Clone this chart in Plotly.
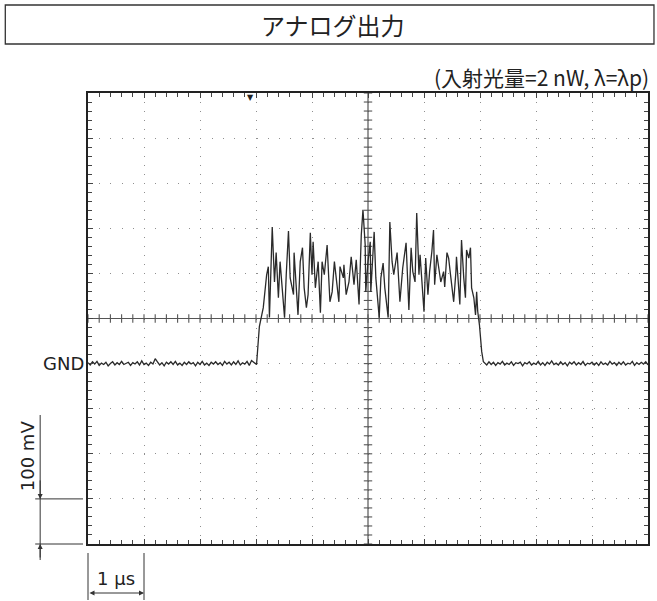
import numpy as np
import plotly.graph_objects as go

# ---------------- data (time in µs, signal in mV, GND = 0 mV) ----------------
base_left_mv = [2, -3, 4, -1, 5, -4, 1, -2, 3, -5, 0, 4, -3, 2, -2, 5, -2, 1, 3, -4,
                2, -1, 4, -3, 6, -2, 1, -4, 3, -1, 11, 4, -3, 2, -5, 3, -1, 4, -2, 5,
                -3, 1, -4, 3, -2, 4, -1, 2, -5, 3, -2, 5, -3, 1, -4, 3, -1, 4, -2, 2,
                -4, 5, -1, 3, -3, 4, -2, 6, -3, 2, -1, 5, -4, 7, 3]
base_left_t = np.round(np.linspace(0.0, 2.96, len(base_left_mv)), 3)

pulse_t = [3.01, 3.04, 3.06, 3.13, 3.17, 3.19, 3.22, 3.24, 3.29, 3.33, 3.36, 3.40, 3.43,
           3.49, 3.51, 3.54, 3.58, 3.61, 3.67, 3.68, 3.72, 3.75, 3.79, 3.83, 3.86, 3.90,
           3.93, 3.97, 4.00, 4.02, 4.06, 4.11, 4.15, 4.18, 4.22, 4.27, 4.32, 4.36, 4.40,
           4.43, 4.48, 4.50, 4.56, 4.57, 4.61, 4.66, 4.70, 4.75, 4.79, 4.84, 4.88, 4.91,
           4.95, 4.96, 5.00, 5.04, 5.05, 5.11, 5.14, 5.20, 5.23, 5.27, 5.30, 5.36, 5.39,
           5.43, 5.46, 5.52, 5.57, 5.62, 5.68, 5.73, 5.77, 5.80, 5.84, 5.87, 5.91, 5.93,
           5.96, 6.00, 6.03, 6.07, 6.10, 6.14, 6.17, 6.19, 6.23, 6.26, 6.30, 6.35, 6.37,
           6.41, 6.44, 6.48, 6.53, 6.57, 6.58, 6.64, 6.67, 6.71, 6.74, 6.76, 6.80, 6.83,
           6.85, 6.89, 6.92, 6.94, 6.96, 6.99, 7.01, 7.03, 7.06]
pulse_mv = [-2, 49, 82, 124, 175, 197, 215, 102, 303, 181, 246, 146, 226,
            124, 102, 197, 294, 190, 153, 246, 159, 108, 226, 257, 168, 124,
            153, 290, 197, 270, 168, 226, 113, 226, 197, 263, 137, 159, 226,
            190, 137, 215, 190, 219, 153, 181, 237, 175, 230, 131, 285, 341,
            263, 159, 226, 270, 159, 292, 190, 102, 190, 223, 168, 102, 314,
            226, 197, 246, 137, 212, 268, 119, 257, 204, 181, 334, 197, 241,
            175, 115, 234, 153, 204, 248, 296, 175, 241, 219, 181, 204, 170,
            246, 234, 190, 137, 204, 237, 131, 274, 190, 146, 252, 234, 257,
            168, 146, 108, 159, 115, 86, 58, 27, 4]

base_right_mv = [1, -3, 4, -2, 3, -4, 2, -1, 5, -3, 1, -2, 4, -4, 2, 0, 3, -5, 2, -1,
                 4, -3, 1, -2, 5, -3, 2, -4, 3, -1, 6, -2, 1, -3, 4, -2, 2, -5, 3, -1,
                 4, -3, 2, -2, 5, -4, 1, -1, 3, -3, 2, -4, 4, -2, 1, -3, 5, -1, 2, -4,
                 3, -2, 4, -3, 1, -1, 5, -4, 2, -2, 3, -1, 4, -3]
base_right_t = np.round(np.linspace(7.08, 10.0, len(base_right_mv)), 3)

t_all = list(base_left_t) + pulse_t + list(base_right_t)
v_all = base_left_mv + pulse_mv + base_right_mv

X_RANGE = [0, 10]          # 1 µs / div
Y_RANGE = [-400, 600]      # 100 mV / div
center_t = 5.0
center_mv = 100.0
trigger_t = 2.9

title_text = "アナログ出力"
subtitle_text = "(入射光量=2 nW, λ=λp)"

# ---------------- layout geometry ----------------
W, H = 657, 601
ML, MR, MT, MB = 88, 7, 93, 57
PW, PH = W - ML - MR, H - MT - MB


def px_x(px):
    return (px - ML) / PW


def px_y(py):
    return (H - MB - py) / PH


def data_y(v):
    return (v - Y_RANGE[0]) / (Y_RANGE[1] - Y_RANGE[0])


def data_x(t):
    return (t - X_RANGE[0]) / (X_RANGE[1] - X_RANGE[0])


fig = go.Figure()

# centre cross with small ticks
minor_t = np.round(np.arange(X_RANGE[0], X_RANGE[1] + 1e-9, 0.2), 3)
minor_v = np.round(np.arange(Y_RANGE[0], Y_RANGE[1] + 1e-9, 20), 3)
fig.add_trace(go.Scatter(x=[X_RANGE[0], X_RANGE[1]], y=[center_mv, center_mv], mode="lines",
                         line=dict(color="#555", width=1.2), hoverinfo="skip", showlegend=False))
fig.add_trace(go.Scatter(x=[center_t, center_t], y=Y_RANGE, mode="lines",
                         line=dict(color="#555", width=1.2), hoverinfo="skip", showlegend=False))
fig.add_trace(go.Scatter(x=minor_t, y=[center_mv] * len(minor_t), mode="markers",
                         marker=dict(symbol="line-ns", size=6, line=dict(color="#555", width=1.1)),
                         hoverinfo="skip", showlegend=False))
fig.add_trace(go.Scatter(x=[center_t] * len(minor_v), y=minor_v, mode="markers",
                         marker=dict(symbol="line-ew", size=6, line=dict(color="#555", width=1.1)),
                         hoverinfo="skip", showlegend=False))

# waveform
fig.add_trace(go.Scatter(x=t_all, y=v_all, mode="lines",
                         line=dict(color="#2a2a2a", width=1.3), showlegend=False))

axis_common = dict(showticklabels=False, showline=True, linecolor="#222", linewidth=1.6,
                   mirror="allticks", ticks="inside", ticklen=5, tickcolor="#444", tickwidth=1,
                   showgrid=True, gridcolor="#8f8f8f", gridwidth=1, zeroline=False)

fig.update_xaxes(range=X_RANGE, dtick=1, tick0=0, griddash="1px,8.02px",
                 minor=dict(dtick=0.2, ticks="inside", ticklen=4, tickcolor="#444", showgrid=False),
                 **axis_common)
fig.update_yaxes(range=Y_RANGE, dtick=100, tick0=0, griddash="1px,10.24px",
                 minor=dict(dtick=20, ticks="inside", ticklen=4, tickcolor="#444", showgrid=False),
                 **axis_common)

shapes = []
# title box
shapes.append(dict(type="rect", xref="paper", yref="paper",
                   x0=px_x(5), x1=px_x(656), y0=px_y(44), y1=px_y(5),
                   line=dict(color="#333", width=1.3)))
# 100 mV dimension
for v in (Y_RANGE[0] + 100, Y_RANGE[0]):
    shapes.append(dict(type="line", xref="paper", yref="paper",
                       x0=px_x(35), x1=px_x(83), y0=data_y(v), y1=data_y(v),
                       line=dict(color="#333", width=1)))
shapes.append(dict(type="line", xref="paper", yref="paper",
                   x0=px_x(40), x1=px_x(40), y0=px_y(560), y1=px_y(415),
                   line=dict(color="#333", width=1)))
# 1 µs dimension
for t in (X_RANGE[0], X_RANGE[0] + 1):
    shapes.append(dict(type="line", xref="paper", yref="paper",
                       x0=data_x(t), x1=data_x(t), y0=px_y(553), y1=px_y(600),
                       line=dict(color="#333", width=1)))

lat_font = "DejaVu Sans"
annotations = [
    dict(text=title_text, xref="paper", yref="paper", x=px_x(334), y=px_y(25),
         xanchor="center", yanchor="middle", showarrow=False,
         font=dict(family="Noto Sans CJK JP", size=24, color="#222")),
    dict(text=subtitle_text, xref="paper", yref="paper", x=px_x(653), y=px_y(77),
         xanchor="right", yanchor="middle", showarrow=False,
         font=dict(family="Noto Sans CJK JP", size=21, color="#222")),
    dict(text="GND", xref="paper", yref="y", x=px_x(86), y=0,
         xanchor="right", yanchor="middle", showarrow=False,
         font=dict(family=lat_font, size=18, color="#222")),
    dict(text="100 mV", xref="paper", yref="paper", x=px_x(27), y=px_y(456),
         xanchor="center", yanchor="middle", textangle=-90, showarrow=False,
         font=dict(family=lat_font, size=18, color="#222")),
    dict(text="1 µs", xref="paper", yref="paper", x=data_x(0.5), y=px_y(578),
         xanchor="center", yanchor="middle", showarrow=False,
         font=dict(family=lat_font, size=18, color="#222")),
    dict(text="▼", xref="x", yref="paper", x=trigger_t, y=1.0,
         xanchor="center", yanchor="top", showarrow=False, yshift=2,
         font=dict(family="DejaVu Sans", size=8, color="#222")),
    # arrows of the 100 mV dimension
    dict(text="", xref="paper", yref="paper", x=px_x(40), y=data_y(Y_RANGE[0] + 100),
         ax=0, ay=-20, showarrow=True, arrowhead=2, arrowsize=1, arrowwidth=1, arrowcolor="#333"),
    dict(text="", xref="paper", yref="paper", x=px_x(40), y=data_y(Y_RANGE[0]),
         ax=0, ay=15, showarrow=True, arrowhead=2, arrowsize=1, arrowwidth=1, arrowcolor="#333"),
    # double arrow of the 1 µs dimension
    dict(text="", xref="paper", yref="paper", x=data_x(1), y=px_y(593),
         ax=-56, ay=0, showarrow=True, arrowhead=2, startarrowhead=2, arrowside="end+start",
         arrowsize=1, arrowwidth=1, arrowcolor="#333"),
]

fig.update_layout(width=W, height=H, margin=dict(l=ML, r=MR, t=MT, b=MB),
                  paper_bgcolor="white", plot_bgcolor="white",
                  shapes=shapes, annotations=annotations, showlegend=False)

fig.write_html("out.html", config={"displayModeBar": False},
               post_script="document.body.style.margin='0';document.body.style.overflow='hidden';")
